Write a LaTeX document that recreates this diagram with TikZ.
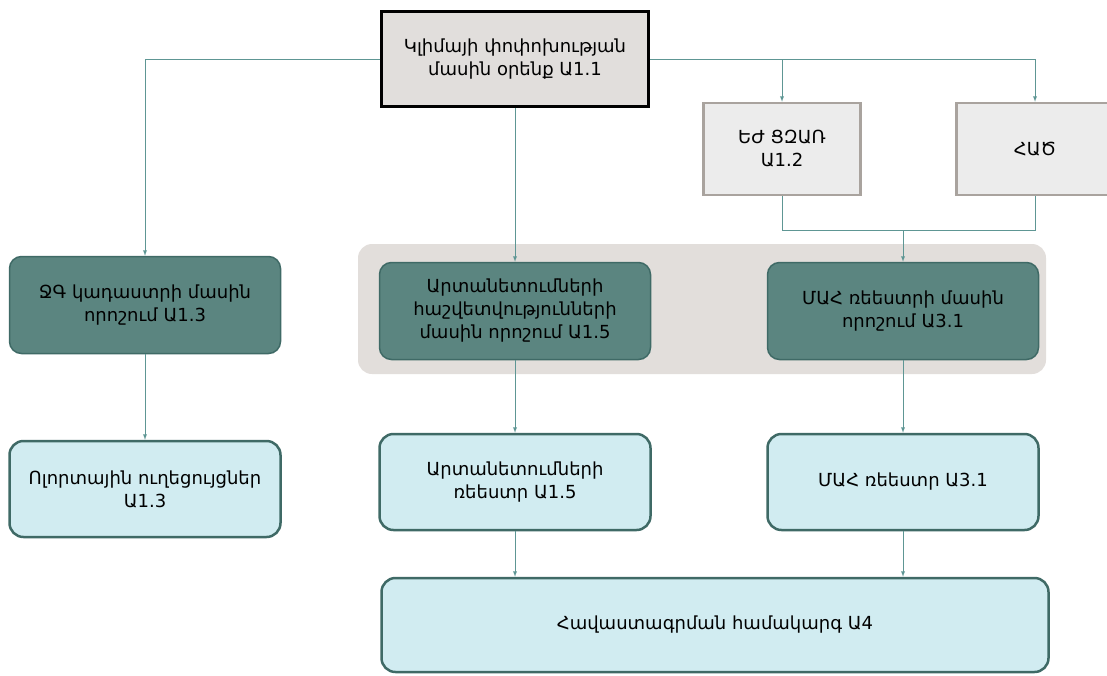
\documentclass[tikz,border=0pt]{standalone}
\usepackage{fontspec}
\setmainfont{DejaVu Sans}
\usetikzlibrary{shapes.geometric, arrows}
\definecolor{lawgray}{HTML}{E1DEDC}
\definecolor{etsgray}{HTML}{ECECEC}
\definecolor{etsedge}{HTML}{A9A39E}
\definecolor{panelgray}{HTML}{E2DEDB}
\definecolor{decteal}{HTML}{5B8580}
\definecolor{tealedge}{HTML}{3F6A66}
\definecolor{reglight}{HTML}{D1ECF1}
\definecolor{linkteal}{HTML}{5E9694}

\begin{document}
\begin{tikzpicture}[x=1pt,y=-1pt,
  font=\fontsize{18}{23}\selectfont,
  law/.style={draw=black, line width=3pt, fill=lawgray, minimum width=267pt,
    minimum height=95pt, align=center},
  scheme/.style={draw=etsedge, line width=2.5pt, fill=etsgray, minimum width=157pt,
    minimum height=92pt, align=center},
  decision/.style={draw=tealedge, line width=1.5pt, fill=decteal, rounded corners=12pt,
    minimum width=271pt, minimum height=97pt, align=center},
  register/.style={draw=tealedge, line width=2.5pt, fill=reglight, rounded corners=14pt,
    minimum width=271pt, minimum height=96pt, align=center},
  link/.style={draw=linkteal, line width=0.9pt},
  arr/.style={link, -latex}]
\useasboundingbox (0,0) rectangle (1107,675);
\fill[panelgray, rounded corners=14pt] (358,244) rectangle (1046,374);

\node[law] (law) at (515,59) {Կլիմայի փոփոխության\\մասին օրենք Ա1.1};
\node[scheme] (ets) at (782,149) {ԵԺ ՑԶԱՌ\\Ա1.2};
\node[scheme] (hac) at (1035,149) {ՀԱԾ};

\node[decision] (zgdec) at (145,305) {ՋԳ կադաստրի մասին\\որոշում Ա1.3};
\node[decision] (emdec) at (515,311) {Արտանետումների\\հաշվետվությունների\\մասին որոշում Ա1.5};
\node[decision] (madec) at (903,311) {ՄԱՀ ռեեստրի մասին\\որոշում Ա3.1};

\node[register] (sector) at (145,489) {Ոլորտային ուղեցույցներ\\Ա1.3};
\node[register] (emreg) at (515,482) {Արտանետումների\\ռեեստր Ա1.5};
\node[register] (mareg) at (903,482) {ՄԱՀ ռեեստր Ա3.1};
\node[register, minimum width=667pt, minimum height=94pt] (cert) at (715,625) {Հավաստագրման համակարգ Ա4};

\coordinate (join) at (903,230);
\draw[arr] (law.west) -| (zgdec.north);
\draw[arr] (law.east) -| (hac.north);
\draw[arr] (ets.north |- law.east) -- (ets.north);
\draw[arr] (law.south) -- (emdec.north);
\draw[link] (ets.south) |- (hac.south |- join) -- (hac.south);
\draw[arr] (join) -- (madec.north);
\draw[arr] (zgdec.south) -- (sector.north);
\draw[arr] (emdec.south) -- (emreg.north);
\draw[arr] (madec.south) -- (mareg.north);
\draw[arr] (emreg.south) -- (emreg.south |- cert.north);
\draw[arr] (mareg.south) -- (mareg.south |- cert.north);
\end{tikzpicture}
\end{document}
